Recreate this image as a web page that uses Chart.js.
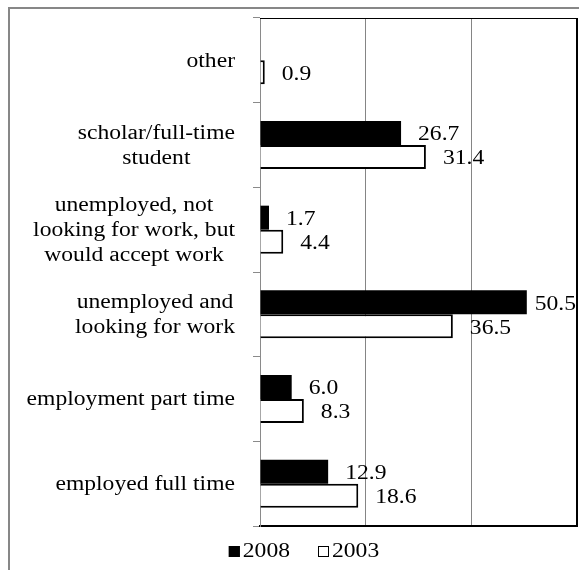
<!DOCTYPE html>
<html>
<head>
<meta charset="utf-8">
<script src="https://cdn.jsdelivr.net/npm/chart.js@4.4.1/dist/chart.umd.min.js"></script>
<style>
  html, body { margin: 0; padding: 0; background: #fff; overflow: hidden; }
  #wrap { position: relative; width: 579px; height: 570px; }
  #frame { position: absolute; left: 8px; top: 7px; width: 700px; height: 700px;
           border-left: 2px solid #878787; border-top: 2px solid #878787; box-sizing: border-box; }
  canvas { position: absolute; left: 0; top: 0; }
</style>
</head>
<body>
<div id="wrap">
  <div id="frame"></div>
  <canvas id="c" width="579" height="570"></canvas>
</div>
<script>
// ---- data ----
const categories = [
  ["other"],
  ["scholar/full-time", "student"],
  ["unemployed, not", "looking for work, but", "would accept work"],
  ["unemployed and", "looking for work"],
  ["employment part time"],
  ["employed full time"]
];
const seriesNames = ["2008", "2003"];
const values2008 = [null, 26.7, 1.7, 50.5, 6.0, 12.9];
const values2003 = [0.9, 31.4, 4.4, 36.5, 8.3, 18.6];
const xTicks = [0, 20, 40, 60];

const FONT = '"Liberation Serif", "Times New Roman", serif';
const SX = 1.18; // horizontal stretch of reference lettering

function stretchedWidth(ctx, t) { return ctx.measureText(t).width * SX; }
function drawStretched(ctx, t, x, y) {
  ctx.save();
  ctx.translate(x, y);
  ctx.scale(SX, 1);
  ctx.textAlign = 'left';
  ctx.fillText(t, 0, 0);
  ctx.restore();
}

const textPlugin = {
  id: 'textPlugin',
  afterDraw(chart) {
    const ctx = chart.ctx;
    const area = chart.chartArea;
    const ys = chart.scales.y;
    ctx.save();
    // plot frame top and right (black)
    ctx.strokeStyle = '#000';
    ctx.lineWidth = 1;
    ctx.beginPath();
    ctx.moveTo(area.left, area.top + 0.5);
    ctx.lineTo(area.right, area.top + 0.5);
    ctx.moveTo(area.right - 0.5, area.top);
    ctx.lineTo(area.right - 0.5, area.bottom);
    ctx.stroke();

    // category labels
    ctx.fillStyle = '#000';
    ctx.textBaseline = 'middle';
    ctx.font = '20px ' + FONT;
    const lh = 25;
    const rightEdge = area.left - 25;
    categories.forEach((lines, i) => {
      const yc = ys.getPixelForValue(i);
      const blockW = Math.max(...lines.map(l => stretchedWidth(ctx, l)));
      const cx = rightEdge - blockW / 2;
      lines.forEach((l, j) => {
        const y = yc - (lines.length - 1) * lh / 2 + j * lh + 1;
        const w = stretchedWidth(ctx, l);
        drawStretched(ctx, l, cx - w / 2, y);
      });
    });

    // value labels
    ctx.font = '20px ' + FONT;
    chart.data.datasets.forEach((ds, di) => {
      const meta = chart.getDatasetMeta(di);
      meta.data.forEach((bar, i) => {
        const v = ds.data[i];
        if (v === null || v === undefined) return;
        const t = v.toFixed(1);
        const w = stretchedWidth(ctx, t);
        let x = bar.x + 17;
        if (x + w > area.right - 1) x = area.right - 1 - w;
        drawStretched(ctx, t, x, bar.y + 2);
      });
    });

    // legend
    ctx.font = '20px ' + FONT;
    const items = chart.data.datasets.map(ds => ({
      label: ds.label, fill: ds.backgroundColor, stroke: ds.borderColor, w: stretchedWidth(ctx, ds.label)
    }));
    const box = 11, gap = 3, itemGap = 28;
    let total = 0;
    items.forEach((it, k) => { total += box + gap + it.w + (k ? itemGap : 0); });
    let x = 304 - total / 2;
    const ly = 551;
    items.forEach((it) => {
      ctx.fillStyle = it.fill;
      ctx.fillRect(x, ly - 5, box, box);
      ctx.strokeStyle = '#000';
      ctx.lineWidth = 1;
      ctx.strokeRect(x + 0.5, ly - 4.5, box - 1, box - 1);
      ctx.fillStyle = '#000';
      drawStretched(ctx, it.label, x + box + gap, ly + 1);
      x += box + gap + it.w + itemGap;
    });
    ctx.restore();
  }
};

new Chart(document.getElementById('c'), {
  type: 'bar',
  data: {
    labels: categories.map(c => c.join(' ')),
    datasets: [
      { label: seriesNames[0], data: values2008, backgroundColor: '#000000', borderColor: '#000000', borderWidth: 0 },
      { label: seriesNames[1], data: values2003, backgroundColor: '#ffffff', borderColor: '#000000', borderWidth: 2 }
    ]
  },
  options: {
    indexAxis: 'y',
    responsive: false,
    animation: false,
    devicePixelRatio: 1,
    categoryPercentage: 0.567,
    barPercentage: 1.0,
    layout: { padding: { left: 0, right: 2, top: 18, bottom: 44 } },
    plugins: { legend: { display: false }, tooltip: { enabled: false } },
    scales: {
      x: {
        type: 'linear',
        min: xTicks[0], max: xTicks[xTicks.length - 1],
        afterBuildTicks: s => { s.ticks = xTicks.map(v => ({ value: v })); },
        afterFit: s => { s.height = 0; },
        ticks: { display: false },
        grid: {
          drawTicks: false,
          color: c => (c.tick && c.tick.value === 0) ? 'rgba(0,0,0,0)' : (c.tick && c.tick.value === 60 ? '#000' : '#858585'),
          lineWidth: 1
        },
        border: { display: true, color: '#000', width: 2 }
      },
      y: {
        type: 'category',
        offset: true,
        afterFit: s => { s.width = 260; },
        ticks: { display: false },
        grid: { offset: true, drawOnChartArea: false, drawTicks: true, tickLength: 7, color: '#8a8a8a', lineWidth: 1 },
        border: { display: true, color: '#8a8a8a', width: 1 }
      }
    }
  },
  plugins: [textPlugin]
});
</script>
</body>
</html>
